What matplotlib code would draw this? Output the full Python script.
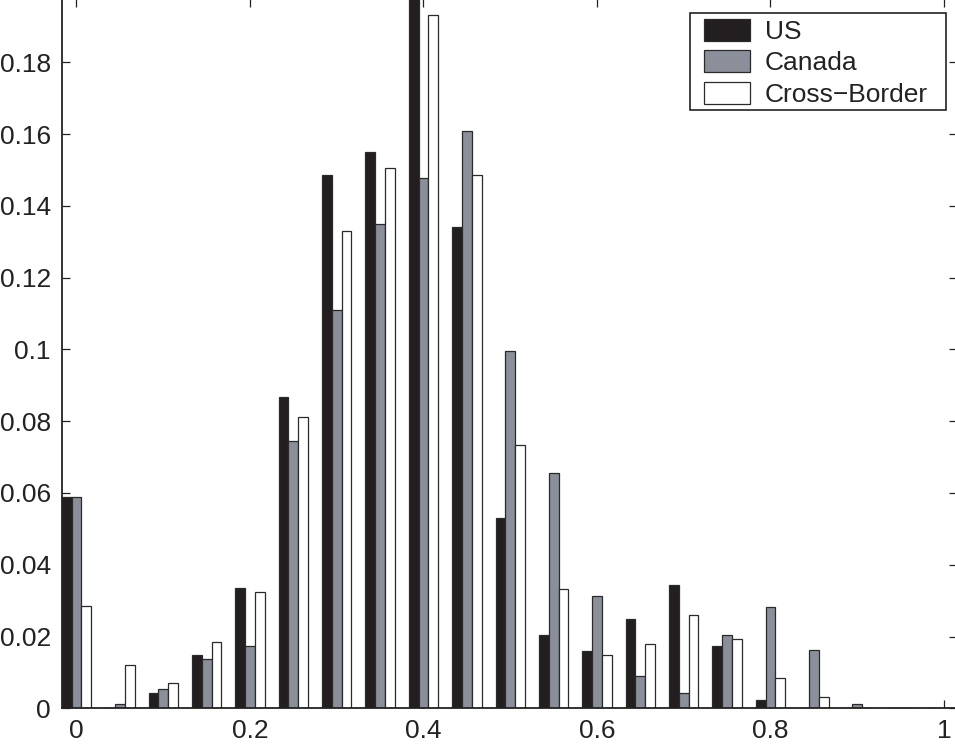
import numpy as np
import matplotlib
matplotlib.use("Agg")
import matplotlib.pyplot as plt
from matplotlib.patches import Rectangle

plt.rcParams['font.family'] = ['Liberation Sans', 'DejaVu Sans']

bins = [0.0, 0.05, 0.1, 0.15, 0.2, 0.25, 0.3, 0.35, 0.4, 0.45, 0.5,
        0.55, 0.6, 0.65, 0.7, 0.75, 0.8, 0.85, 0.9, 0.95, 1.0]
us = [0.059, 0.0, 0.0044, 0.0149, 0.0335, 0.0868, 0.1485, 0.155, 0.21, 0.134, 0.053,
      0.0204, 0.0161, 0.025, 0.0344, 0.0175, 0.0023, 0.0, 0.0, 0.0, 0.0]
canada = [0.059, 0.0012, 0.0053, 0.0137, 0.0174, 0.0746, 0.1111, 0.1351, 0.1477, 0.161, 0.0997,
          0.0656, 0.0313, 0.009, 0.0044, 0.0204, 0.0282, 0.0162, 0.0012, 0.0, 0.0]
cross = [0.0285, 0.0121, 0.0071, 0.0186, 0.0325, 0.0813, 0.1329, 0.1507, 0.1933, 0.1487, 0.0733,
         0.0333, 0.0149, 0.018, 0.026, 0.0194, 0.0084, 0.0031, 0.0, 0.0, 0.0]
series_names = ["US", "Canada", "Cross\u2212Border"]
colors = ["#231f20", "#8a8f9a", "#ffffff"]
xticks = [0, 0.2, 0.4, 0.6, 0.8, 1]
xticklabels = ["0", "0.2", "0.4", "0.6", "0.8", "1"]
yticks = [0, 0.02, 0.04, 0.06, 0.08, 0.1, 0.12, 0.14, 0.16, 0.18]
yticklabels = ["0", "0.02", "0.04", "0.06", "0.08", "0.1", "0.12", "0.14", "0.16", "0.18"]

W, H = 955, 746
fig = plt.figure(figsize=(W/100, H/100), dpi=100)
ax = fig.add_axes([62/W, 1 - 708.3/H, (957-62)/W, 708.3/H + 0.002])

x = np.array(bins)
w = 0.0113
offsets = [-w, 0.0, w]
for vals, off, col, name in zip([us, canada, cross], offsets, colors, series_names):
    ax.bar(x + off, vals, width=w, color=col, edgecolor="#2a2a2a", linewidth=0.9,
           label=name, zorder=2)

ax.set_xlim(-0.0167, 1.015)
ax.set_ylim(0, 0.1978)
ax.set_xticks(xticks)
ax.set_xticklabels(xticklabels)
ax.set_yticks(yticks)
ax.set_yticklabels(yticklabels)
ax.tick_params(direction='in', length=6, width=0.9, top=True, right=True,
               labelsize=19, pad=8, colors='#222222', labelcolor='#222222')
for s in ax.spines.values():
    s.set_linewidth(1.3)
    s.set_color('#222222')

# legend frame (drawn separately to match the padding of the reference)
frame = Rectangle((690/W, 1 - 110/H), (946-690)/W, (110-13)/H, transform=fig.transFigure,
                  facecolor='white', edgecolor='#222222', linewidth=1.2, zorder=4,
                  clip_on=False)
ax.add_patch(frame)
leg = ax.legend(loc='upper left', bbox_to_anchor=(704/W, 1 - 19/H),
                bbox_transform=fig.transFigure, borderaxespad=0, fontsize=19,
                frameon=False, handlelength=1.75, handleheight=0.9, handletextpad=0.55,
                labelspacing=0.24, borderpad=0)
leg.set_zorder(6)
for t in leg.get_texts():
    t.set_color('#222222')

fig.savefig("out.png", dpi=100)
